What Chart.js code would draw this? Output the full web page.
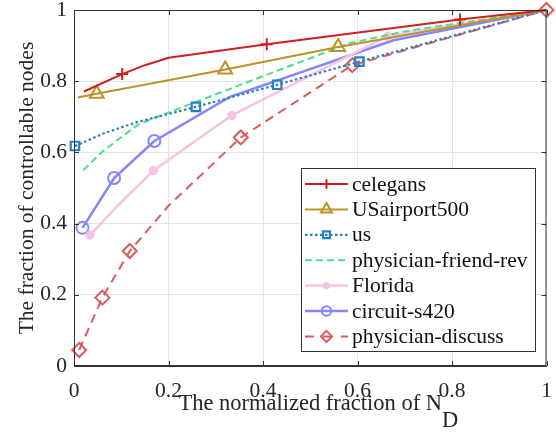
<!DOCTYPE html>
<html>
<head>
<meta charset="utf-8">
<script src="https://cdn.jsdelivr.net/npm/chart.js@4.4.0/dist/chart.umd.min.js"></script>
<style>
  html, body { margin: 0; padding: 0; background: #fff; }
</style>
</head>
<body>
<canvas id="fracChart" width="556" height="435"></canvas>
<script>
// datos
const tickValues = [0, 0.2, 0.4, 0.6, 0.8, 1];
const tickLabels = ['0', '0.2', '0.4', '0.6', '0.8', '1'];

const celegansX = [0.021, 0.102, 0.15, 0.2, 0.408, 0.817, 1];
const celegansY = [0.771, 0.82, 0.845, 0.866, 0.904, 0.973, 1];
const celegansMarks = [1, 4, 5];

const airportX = [0.008, 0.048, 0.32, 0.559, 1];
const airportY = [0.754, 0.765, 0.833, 0.896, 1];
const airportMarks = [1, 2, 3];

const usX = [0.002, 0.062, 0.133, 0.258, 0.43, 0.604, 1];
const usY = [0.618, 0.653, 0.685, 0.728, 0.79, 0.855, 1];
const usMarks = [0, 3, 4, 5];

const friendX = [0.02, 0.059, 0.133, 0.161, 0.372, 0.584, 0.7, 1];
const friendY = [0.55, 0.601, 0.676, 0.692, 0.80, 0.907, 0.94, 1];
const friendMarks = [];

const floridaX = [0.034, 0.09, 0.168, 0.334, 0.665, 1];
const floridaY = [0.368, 0.447, 0.549, 0.704, 0.927, 1];
const floridaMarks = [0, 2, 3, 4];

const circuitX = [0.018, 0.085, 0.17, 0.33, 0.676, 1];
const circuitY = [0.388, 0.528, 0.632, 0.756, 0.915, 1];
const circuitMarks = [0, 1, 2];

const discussX = [0.011, 0.06, 0.118, 0.2, 0.353, 0.589, 1];
const discussY = [0.045, 0.192, 0.323, 0.45, 0.642, 0.845, 1];
const discussMarks = [0, 1, 2, 4, 5, 6];

const serifFont = '"Liberation Serif", "Times New Roman", serif';
const axisColor = '#333333';

function makeSeries(label, xs, ys, marks, style) {
    return {
        label: label,
        data: xs.map((x, i) => ({ x: x, y: ys[i] })),
        borderColor: style.color,
        backgroundColor: 'rgba(0,0,0,0)',
        borderWidth: style.width,
        borderDash: style.dash || [],
        pointStyle: style.point || false,
        pointRadius: xs.map((x, i) => marks.includes(i) ? style.radius : 0),
        pointHoverRadius: 0,
        pointBorderColor: style.color,
        pointBackgroundColor: 'rgba(0,0,0,0)',
        pointBorderWidth: style.pointWidth || 2,
        tension: 0,
        clip: false,
        _legendPoint: style.point,
        _legendRadius: style.radius,
        _legendDash: style.legendDash || style.dash || []
    };
}

const datasets = [
    makeSeries('celegans', celegansX, celegansY, celegansMarks, { color: '#d01f1f', width: 2, point: 'cross', radius: 6 }),
    makeSeries('USairport500', airportX, airportY, airportMarks, { color: '#bf9129', width: 2, point: 'triangle', radius: 8 }),
    makeSeries('us', usX, usY, usMarks, { color: '#2a7fc4', width: 2.2, dash: [2.5, 2.5], point: 'rect', radius: 6, pointWidth: 2.2 }),
    makeSeries('physician-friend-rev', friendX, friendY, friendMarks, { color: '#50dd88', width: 2, dash: [7, 4], point: false, radius: 0 }),
    makeSeries('Florida', floridaX, floridaY, floridaMarks, { color: '#f5c4e2', width: 2.5, point: 'star', radius: 4.5, pointWidth: 3.5 }),
    makeSeries('circuit-s420', circuitX, circuitY, circuitMarks, { color: '#8585ff', width: 2.5, point: 'circle', radius: 6 }),
    makeSeries('physician-discuss', discussX, discussY, discussMarks, { color: '#dd5a5a', width: 2, dash: [9, 6], point: 'rectRot', radius: 7, legendDash: [9, 9] })
];

// marco, marcas hacia dentro, titulos y leyenda
const matlabLook = {
    id: 'matlabLook',
    afterDatasetsDraw(chart) {
        const ctx = chart.ctx;
        const a = chart.chartArea;
        const xs = chart.scales.x, ys = chart.scales.y;
        ctx.save();
        ctx.strokeStyle = axisColor;
        ctx.lineWidth = 1;
        ctx.setLineDash([]);
        ctx.strokeRect(a.left + 0.5, a.top + 0.5, a.right - a.left - 1, a.bottom - a.top - 1);
        ctx.beginPath();
        tickValues.forEach(v => {
            const px = Math.round(xs.getPixelForValue(v)) + 0.5;
            const py = Math.round(ys.getPixelForValue(v)) + 0.5;
            ctx.moveTo(px, a.bottom); ctx.lineTo(px, a.bottom - 5);
            ctx.moveTo(px, a.top); ctx.lineTo(px, a.top + 5);
            ctx.moveTo(a.left, py); ctx.lineTo(a.left + 5, py);
            ctx.moveTo(a.right, py); ctx.lineTo(a.right - 5, py);
        });
        ctx.stroke();
        ctx.restore();
    },
    afterDraw(chart) {
        const ctx = chart.ctx;
        const a = chart.chartArea;
        ctx.save();
        ctx.fillStyle = '#262626';

        // titulo eje x con subindice
        ctx.font = '22.5px ' + serifFont;
        ctx.textBaseline = 'alphabetic';
        ctx.textAlign = 'left';
        const main = 'The normalized fraction of N';
        const wMain = ctx.measureText(main).width;
        const cx = (a.left + a.right) / 2;
        const startX = cx - wMain / 2;
        ctx.fillText(main, startX, 410);
        ctx.fillText('D', startX + wMain, 427);

        // titulo eje y
        ctx.translate(33, (a.top + a.bottom) / 2);
        ctx.rotate(-Math.PI / 2);
        ctx.textAlign = 'center';
        ctx.font = '21.5px ' + serifFont;
        ctx.fillText('The fraction of controllable nodes', 0, 0);
        ctx.restore();

        // leyenda
        const box = { left: 301.5, top: 168.5, right: 535.5, bottom: 351.5 };
        ctx.save();
        ctx.fillStyle = '#ffffff';
        ctx.fillRect(box.left, box.top, box.right - box.left, box.bottom - box.top);
        ctx.strokeStyle = axisColor;
        ctx.lineWidth = 1;
        ctx.strokeRect(box.left, box.top, box.right - box.left, box.bottom - box.top);
        ctx.font = '21.5px ' + serifFont;
        ctx.textBaseline = 'middle';
        ctx.textAlign = 'left';
        chart.data.datasets.forEach((ds, i) => {
            const y = 184 + i * 25.4;
            ctx.strokeStyle = ds.borderColor;
            ctx.lineWidth = ds.borderWidth;
            ctx.setLineDash(ds._legendDash);
            ctx.beginPath();
            ctx.moveTo(305, y);
            ctx.lineTo(348, y);
            ctx.stroke();
            ctx.setLineDash([]);
            if (ds._legendPoint) {
                ctx.lineWidth = ds.pointBorderWidth;
                ctx.fillStyle = 'rgba(0,0,0,0)';
                Chart.helpers.drawPoint(ctx, {
                    pointStyle: ds._legendPoint,
                    radius: ds._legendRadius * 0.8,
                    rotation: 0,
                    borderWidth: ds.pointBorderWidth
                }, 326.5, y);
            }
            ctx.fillStyle = '#111111';
            ctx.fillText(ds.label, 352, y + 1);
        });
        ctx.restore();
    }
};

const tickFont = { family: serifFont, size: 21.5 };
const tickText = (value) => {
    const k = tickValues.findIndex(v => Math.abs(v - value) < 1e-6);
    return k >= 0 ? tickLabels[k] : '';
};

new Chart(document.getElementById('fracChart'), {
    type: 'line',
    data: { datasets: datasets },
    options: {
        responsive: false,
        devicePixelRatio: 1,
        animation: false,
        layout: { padding: { top: 10, right: 9.5, left: 0, bottom: 0 } },
        plugins: {
            legend: { display: false },
            tooltip: { enabled: false }
        },
        scales: {
            x: {
                type: 'linear',
                min: 0,
                max: 1,
                afterBuildTicks: (scale) => { scale.ticks = tickValues.map(v => ({ value: v })); },
                ticks: { color: '#262626', font: tickFont, padding: 12, maxRotation: 0, callback: tickText },
                grid: { color: '#e4e4e4', drawTicks: false },
                border: { color: axisColor },
                afterFit: (scale) => {
                    scale.height = 69;
                    scale.paddingLeft = 0; scale.paddingRight = 0;
                }
            },
            y: {
                type: 'linear',
                min: 0,
                max: 1,
                afterBuildTicks: (scale) => { scale.ticks = tickValues.map(v => ({ value: v })); },
                ticks: { color: '#262626', font: tickFont, padding: 7, callback: tickText },
                grid: { color: '#e4e4e4', drawTicks: false },
                border: { color: axisColor },
                afterFit: (scale) => {
                    scale.width = 74;
                    scale.paddingTop = 0; scale.paddingBottom = 0;
                }
            }
        }
    },
    plugins: [matlabLook]
});
</script>
</body>
</html>
